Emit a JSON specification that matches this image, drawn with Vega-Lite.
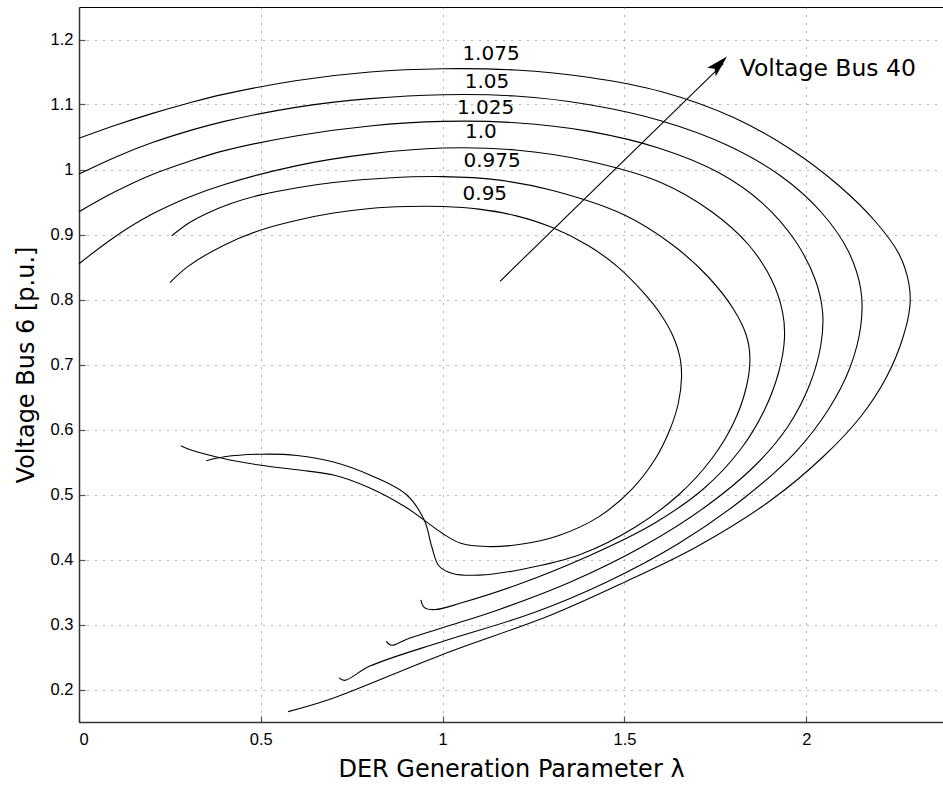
{
  "$schema": "https://vega.github.io/schema/vega-lite/v6.json",
  "autosize": "none",
  "width": 864,
  "height": 715,
  "padding": {"left": 79, "top": 7, "right": 0, "bottom": 63},
  "background": "white",
  "config": {
    "view": {"stroke": "black", "strokeWidth": 1},
    "axis": {
      "labelFont": "Liberation Sans",
      "labelFontSize": 16.5,
      "labelColor": "black",
      "titleFont": "DejaVu Sans",
      "titleFontSize": 24,
      "titleFontWeight": "normal",
      "titleColor": "black",
      "grid": true,
      "gridColor": "#666",
      "gridDash": [1, 7],
      "gridOpacity": 1,
      "domainColor": "#333",
      "domainWidth": 1.5,
      "ticks": true,
      "tickSize": -6,
      "tickColor": "#555",
      "tickWidth": 1.2
    }
  },
  "datasets": {
    "curves": [
      {"curve": "0.95", "i": 0, "x": 0.25, "y": 0.826},
      {"curve": "0.95", "i": 1, "x": 0.3, "y": 0.851},
      {"curve": "0.95", "i": 2, "x": 0.4, "y": 0.884},
      {"curve": "0.95", "i": 3, "x": 0.5, "y": 0.907},
      {"curve": "0.95", "i": 4, "x": 0.6, "y": 0.922},
      {"curve": "0.95", "i": 5, "x": 0.7, "y": 0.933},
      {"curve": "0.95", "i": 6, "x": 0.8, "y": 0.94},
      {"curve": "0.95", "i": 7, "x": 0.9, "y": 0.943},
      {"curve": "0.95", "i": 8, "x": 1.0, "y": 0.943},
      {"curve": "0.95", "i": 9, "x": 1.1, "y": 0.939},
      {"curve": "0.95", "i": 10, "x": 1.2, "y": 0.929},
      {"curve": "0.95", "i": 11, "x": 1.3, "y": 0.911},
      {"curve": "0.95", "i": 12, "x": 1.4, "y": 0.883},
      {"curve": "0.95", "i": 13, "x": 1.48, "y": 0.851},
      {"curve": "0.95", "i": 14, "x": 1.55, "y": 0.812},
      {"curve": "0.95", "i": 15, "x": 1.6, "y": 0.777},
      {"curve": "0.95", "i": 16, "x": 1.635, "y": 0.742},
      {"curve": "0.95", "i": 17, "x": 1.653, "y": 0.71},
      {"curve": "0.95", "i": 18, "x": 1.657, "y": 0.68},
      {"curve": "0.95", "i": 19, "x": 1.648, "y": 0.64},
      {"curve": "0.95", "i": 20, "x": 1.625, "y": 0.6},
      {"curve": "0.95", "i": 21, "x": 1.585, "y": 0.555},
      {"curve": "0.95", "i": 22, "x": 1.52, "y": 0.508},
      {"curve": "0.95", "i": 23, "x": 1.43, "y": 0.466},
      {"curve": "0.95", "i": 24, "x": 1.32, "y": 0.437},
      {"curve": "0.95", "i": 25, "x": 1.21, "y": 0.423},
      {"curve": "0.95", "i": 26, "x": 1.12, "y": 0.42},
      {"curve": "0.95", "i": 27, "x": 1.05, "y": 0.425},
      {"curve": "0.95", "i": 28, "x": 1.0, "y": 0.44},
      {"curve": "0.95", "i": 29, "x": 0.9, "y": 0.48},
      {"curve": "0.95", "i": 30, "x": 0.8, "y": 0.51},
      {"curve": "0.95", "i": 31, "x": 0.7, "y": 0.53},
      {"curve": "0.95", "i": 32, "x": 0.6, "y": 0.538},
      {"curve": "0.95", "i": 33, "x": 0.5, "y": 0.545},
      {"curve": "0.95", "i": 34, "x": 0.4, "y": 0.555},
      {"curve": "0.95", "i": 35, "x": 0.3, "y": 0.57},
      {"curve": "0.95", "i": 36, "x": 0.28, "y": 0.575},

      {"curve": "0.975", "i": 0, "x": 0.255, "y": 0.898},
      {"curve": "0.975", "i": 1, "x": 0.3, "y": 0.917},
      {"curve": "0.975", "i": 2, "x": 0.35, "y": 0.932},
      {"curve": "0.975", "i": 3, "x": 0.42, "y": 0.948},
      {"curve": "0.975", "i": 4, "x": 0.5, "y": 0.961},
      {"curve": "0.975", "i": 5, "x": 0.6, "y": 0.972},
      {"curve": "0.975", "i": 6, "x": 0.7, "y": 0.98},
      {"curve": "0.975", "i": 7, "x": 0.85, "y": 0.987},
      {"curve": "0.975", "i": 8, "x": 1.0, "y": 0.989},
      {"curve": "0.975", "i": 9, "x": 1.15, "y": 0.984},
      {"curve": "0.975", "i": 10, "x": 1.3, "y": 0.968},
      {"curve": "0.975", "i": 11, "x": 1.5, "y": 0.93},
      {"curve": "0.975", "i": 12, "x": 1.63, "y": 0.885},
      {"curve": "0.975", "i": 13, "x": 1.73, "y": 0.835},
      {"curve": "0.975", "i": 14, "x": 1.8, "y": 0.785},
      {"curve": "0.975", "i": 15, "x": 1.835, "y": 0.745},
      {"curve": "0.975", "i": 16, "x": 1.845, "y": 0.71},
      {"curve": "0.975", "i": 17, "x": 1.835, "y": 0.665},
      {"curve": "0.975", "i": 18, "x": 1.8, "y": 0.61},
      {"curve": "0.975", "i": 19, "x": 1.74, "y": 0.555},
      {"curve": "0.975", "i": 20, "x": 1.65, "y": 0.5},
      {"curve": "0.975", "i": 21, "x": 1.53, "y": 0.45},
      {"curve": "0.975", "i": 22, "x": 1.38, "y": 0.408},
      {"curve": "0.975", "i": 23, "x": 1.22, "y": 0.385},
      {"curve": "0.975", "i": 24, "x": 1.1, "y": 0.376},
      {"curve": "0.975", "i": 25, "x": 1.03, "y": 0.378},
      {"curve": "0.975", "i": 26, "x": 0.99, "y": 0.39},
      {"curve": "0.975", "i": 27, "x": 0.97, "y": 0.42},
      {"curve": "0.975", "i": 28, "x": 0.95, "y": 0.46},
      {"curve": "0.975", "i": 29, "x": 0.9, "y": 0.5},
      {"curve": "0.975", "i": 30, "x": 0.8, "y": 0.53},
      {"curve": "0.975", "i": 31, "x": 0.7, "y": 0.55},
      {"curve": "0.975", "i": 32, "x": 0.6, "y": 0.56},
      {"curve": "0.975", "i": 33, "x": 0.5, "y": 0.562},
      {"curve": "0.975", "i": 34, "x": 0.4, "y": 0.558},
      {"curve": "0.975", "i": 35, "x": 0.35, "y": 0.552},

      {"curve": "1.0", "i": 0, "x": 0.0, "y": 0.855},
      {"curve": "1.0", "i": 1, "x": 0.1, "y": 0.897},
      {"curve": "1.0", "i": 2, "x": 0.2, "y": 0.931},
      {"curve": "1.0", "i": 3, "x": 0.3, "y": 0.957},
      {"curve": "1.0", "i": 4, "x": 0.4, "y": 0.977},
      {"curve": "1.0", "i": 5, "x": 0.6, "y": 1.006},
      {"curve": "1.0", "i": 6, "x": 0.8, "y": 1.024},
      {"curve": "1.0", "i": 7, "x": 1.0, "y": 1.033},
      {"curve": "1.0", "i": 8, "x": 1.2, "y": 1.03},
      {"curve": "1.0", "i": 9, "x": 1.4, "y": 1.013},
      {"curve": "1.0", "i": 10, "x": 1.6, "y": 0.98},
      {"curve": "1.0", "i": 11, "x": 1.74, "y": 0.935},
      {"curve": "1.0", "i": 12, "x": 1.84, "y": 0.885},
      {"curve": "1.0", "i": 13, "x": 1.905, "y": 0.83},
      {"curve": "1.0", "i": 14, "x": 1.935, "y": 0.78},
      {"curve": "1.0", "i": 15, "x": 1.94, "y": 0.74},
      {"curve": "1.0", "i": 16, "x": 1.925, "y": 0.69},
      {"curve": "1.0", "i": 17, "x": 1.885, "y": 0.63},
      {"curve": "1.0", "i": 18, "x": 1.82, "y": 0.57},
      {"curve": "1.0", "i": 19, "x": 1.72, "y": 0.51},
      {"curve": "1.0", "i": 20, "x": 1.58, "y": 0.455},
      {"curve": "1.0", "i": 21, "x": 1.4, "y": 0.405},
      {"curve": "1.0", "i": 22, "x": 1.2, "y": 0.36},
      {"curve": "1.0", "i": 23, "x": 1.05, "y": 0.333},
      {"curve": "1.0", "i": 24, "x": 0.98, "y": 0.323},
      {"curve": "1.0", "i": 25, "x": 0.95, "y": 0.326},
      {"curve": "1.0", "i": 26, "x": 0.94, "y": 0.338},

      {"curve": "1.025", "i": 0, "x": 0.0, "y": 0.935},
      {"curve": "1.025", "i": 1, "x": 0.1, "y": 0.966},
      {"curve": "1.025", "i": 2, "x": 0.2, "y": 0.992},
      {"curve": "1.025", "i": 3, "x": 0.3, "y": 1.012},
      {"curve": "1.025", "i": 4, "x": 0.4, "y": 1.029},
      {"curve": "1.025", "i": 5, "x": 0.6, "y": 1.052},
      {"curve": "1.025", "i": 6, "x": 0.8, "y": 1.067},
      {"curve": "1.025", "i": 7, "x": 1.0, "y": 1.074},
      {"curve": "1.025", "i": 8, "x": 1.2, "y": 1.072},
      {"curve": "1.025", "i": 9, "x": 1.4, "y": 1.059},
      {"curve": "1.025", "i": 10, "x": 1.6, "y": 1.032},
      {"curve": "1.025", "i": 11, "x": 1.76, "y": 0.995},
      {"curve": "1.025", "i": 12, "x": 1.88, "y": 0.948},
      {"curve": "1.025", "i": 13, "x": 1.97, "y": 0.89},
      {"curve": "1.025", "i": 14, "x": 2.025, "y": 0.83},
      {"curve": "1.025", "i": 15, "x": 2.045, "y": 0.78},
      {"curve": "1.025", "i": 16, "x": 2.04, "y": 0.73},
      {"curve": "1.025", "i": 17, "x": 2.01, "y": 0.67},
      {"curve": "1.025", "i": 18, "x": 1.95, "y": 0.605},
      {"curve": "1.025", "i": 19, "x": 1.86, "y": 0.545},
      {"curve": "1.025", "i": 20, "x": 1.72, "y": 0.48},
      {"curve": "1.025", "i": 21, "x": 1.55, "y": 0.42},
      {"curve": "1.025", "i": 22, "x": 1.35, "y": 0.365},
      {"curve": "1.025", "i": 23, "x": 1.15, "y": 0.322},
      {"curve": "1.025", "i": 24, "x": 1.0, "y": 0.295},
      {"curve": "1.025", "i": 25, "x": 0.9, "y": 0.277},
      {"curve": "1.025", "i": 26, "x": 0.86, "y": 0.268},
      {"curve": "1.025", "i": 27, "x": 0.845, "y": 0.274},

      {"curve": "1.05", "i": 0, "x": 0.0, "y": 0.993},
      {"curve": "1.05", "i": 1, "x": 0.1, "y": 1.019},
      {"curve": "1.05", "i": 2, "x": 0.2, "y": 1.041},
      {"curve": "1.05", "i": 3, "x": 0.3, "y": 1.059},
      {"curve": "1.05", "i": 4, "x": 0.4, "y": 1.074},
      {"curve": "1.05", "i": 5, "x": 0.6, "y": 1.096},
      {"curve": "1.05", "i": 6, "x": 0.8, "y": 1.109},
      {"curve": "1.05", "i": 7, "x": 1.0, "y": 1.115},
      {"curve": "1.05", "i": 8, "x": 1.2, "y": 1.113},
      {"curve": "1.05", "i": 9, "x": 1.4, "y": 1.1},
      {"curve": "1.05", "i": 10, "x": 1.6, "y": 1.075},
      {"curve": "1.05", "i": 11, "x": 1.78, "y": 1.038},
      {"curve": "1.05", "i": 12, "x": 1.93, "y": 0.99},
      {"curve": "1.05", "i": 13, "x": 2.04, "y": 0.935},
      {"curve": "1.05", "i": 14, "x": 2.115, "y": 0.875},
      {"curve": "1.05", "i": 15, "x": 2.15, "y": 0.815},
      {"curve": "1.05", "i": 16, "x": 2.15, "y": 0.76},
      {"curve": "1.05", "i": 17, "x": 2.12, "y": 0.695},
      {"curve": "1.05", "i": 18, "x": 2.06, "y": 0.63},
      {"curve": "1.05", "i": 19, "x": 1.97, "y": 0.565},
      {"curve": "1.05", "i": 20, "x": 1.83, "y": 0.495},
      {"curve": "1.05", "i": 21, "x": 1.65, "y": 0.425},
      {"curve": "1.05", "i": 22, "x": 1.45, "y": 0.365},
      {"curve": "1.05", "i": 23, "x": 1.25, "y": 0.318},
      {"curve": "1.05", "i": 24, "x": 1.0, "y": 0.274},
      {"curve": "1.05", "i": 25, "x": 0.8, "y": 0.236},
      {"curve": "1.05", "i": 26, "x": 0.73, "y": 0.214},
      {"curve": "1.05", "i": 27, "x": 0.715, "y": 0.218},

      {"curve": "1.075", "i": 0, "x": 0.0, "y": 1.048},
      {"curve": "1.075", "i": 1, "x": 0.1, "y": 1.068},
      {"curve": "1.075", "i": 2, "x": 0.2, "y": 1.086},
      {"curve": "1.075", "i": 3, "x": 0.3, "y": 1.102},
      {"curve": "1.075", "i": 4, "x": 0.4, "y": 1.116},
      {"curve": "1.075", "i": 5, "x": 0.6, "y": 1.137},
      {"curve": "1.075", "i": 6, "x": 0.8, "y": 1.15},
      {"curve": "1.075", "i": 7, "x": 1.0, "y": 1.155},
      {"curve": "1.075", "i": 8, "x": 1.2, "y": 1.153},
      {"curve": "1.075", "i": 9, "x": 1.4, "y": 1.142},
      {"curve": "1.075", "i": 10, "x": 1.6, "y": 1.12},
      {"curve": "1.075", "i": 11, "x": 1.8, "y": 1.08},
      {"curve": "1.075", "i": 12, "x": 1.96, "y": 1.03},
      {"curve": "1.075", "i": 13, "x": 2.09, "y": 0.975},
      {"curve": "1.075", "i": 14, "x": 2.19, "y": 0.92},
      {"curve": "1.075", "i": 15, "x": 2.255, "y": 0.87},
      {"curve": "1.075", "i": 16, "x": 2.282, "y": 0.825},
      {"curve": "1.075", "i": 17, "x": 2.285, "y": 0.79},
      {"curve": "1.075", "i": 18, "x": 2.265, "y": 0.74},
      {"curve": "1.075", "i": 19, "x": 2.22, "y": 0.68},
      {"curve": "1.075", "i": 20, "x": 2.15, "y": 0.62},
      {"curve": "1.075", "i": 21, "x": 2.05, "y": 0.56},
      {"curve": "1.075", "i": 22, "x": 1.9, "y": 0.49},
      {"curve": "1.075", "i": 23, "x": 1.7, "y": 0.42},
      {"curve": "1.075", "i": 24, "x": 1.5, "y": 0.365},
      {"curve": "1.075", "i": 25, "x": 1.3, "y": 0.315},
      {"curve": "1.075", "i": 26, "x": 1.0, "y": 0.254},
      {"curve": "1.075", "i": 27, "x": 0.69, "y": 0.185},
      {"curve": "1.075", "i": 28, "x": 0.575, "y": 0.166}
    ],
    "arrow": [
      {"i": 0, "x": 1.158, "y": 0.828},
      {"i": 1, "x": 1.772, "y": 1.163}
    ],
    "head": [
      {"x": 1.782, "y": 1.174}
    ],
    "labels": [
      {"text": "1.075", "x": 1.133, "y": 1.178},
      {"text": "1.05", "x": 1.122, "y": 1.134},
      {"text": "1.025", "x": 1.118, "y": 1.094},
      {"text": "1.0", "x": 1.105, "y": 1.057},
      {"text": "0.975", "x": 1.136, "y": 1.013},
      {"text": "0.95", "x": 1.116, "y": 0.963}
    ],
    "note": [
      {"text": "Voltage Bus 40", "x": 1.817, "y": 1.154}
    ]
  },
  "layer": [
    {
      "data": {"name": "curves"},
      "mark": {"type": "line", "color": "black", "strokeWidth": 1.1, "interpolate": "catmull-rom"},
      "encoding": {
        "x": {
          "field": "x", "type": "quantitative",
          "scale": {"domain": [0, 2.376], "nice": false, "zero": false},
          "axis": {"values": [0, 0.5, 1, 1.5, 2], "labelExpr": "toString(datum.value)", "title": "DER  Generation Parameter λ", "titlePadding": 10, "labelPadding": 15}
        },
        "y": {
          "field": "y", "type": "quantitative",
          "scale": {"domain": [0.15, 1.25], "nice": false, "zero": false},
          "axis": {"values": [0.2, 0.3, 0.4, 0.5, 0.6, 0.7, 0.8, 0.9, 1, 1.1, 1.2], "labelExpr": "toString(datum.value)", "title": "Voltage  Bus 6 [p.u.]", "titlePadding": 12, "labelPadding": 12}
        },
        "detail": {"field": "curve"},
        "order": {"field": "i", "type": "quantitative"}
      }
    },
    {
      "data": {"name": "arrow"},
      "mark": {"type": "line", "color": "black", "strokeWidth": 1.1},
      "encoding": {
        "x": {"field": "x", "type": "quantitative"},
        "y": {"field": "y", "type": "quantitative"},
        "order": {"field": "i", "type": "quantitative"}
      }
    },
    {
      "data": {"name": "head"},
      "mark": {"type": "point", "shape": "M0,0 L0.55,2 L0,1.6 L-0.55,2 Z", "filled": true, "color": "black", "opacity": 1, "size": 480, "angle": 45},
      "encoding": {
        "x": {"field": "x", "type": "quantitative"},
        "y": {"field": "y", "type": "quantitative"}
      }
    },
    {
      "data": {"name": "labels"},
      "mark": {"type": "text", "font": "DejaVu Sans", "fontSize": 20, "color": "black", "align": "center", "baseline": "middle"},
      "encoding": {
        "x": {"field": "x", "type": "quantitative"},
        "y": {"field": "y", "type": "quantitative"},
        "text": {"field": "text"}
      }
    },
    {
      "data": {"name": "note"},
      "mark": {"type": "text", "font": "DejaVu Sans", "fontSize": 23.5, "color": "black", "align": "left", "baseline": "middle"},
      "encoding": {
        "x": {"field": "x", "type": "quantitative"},
        "y": {"field": "y", "type": "quantitative"},
        "text": {"field": "text"}
      }
    }
  ]
}
